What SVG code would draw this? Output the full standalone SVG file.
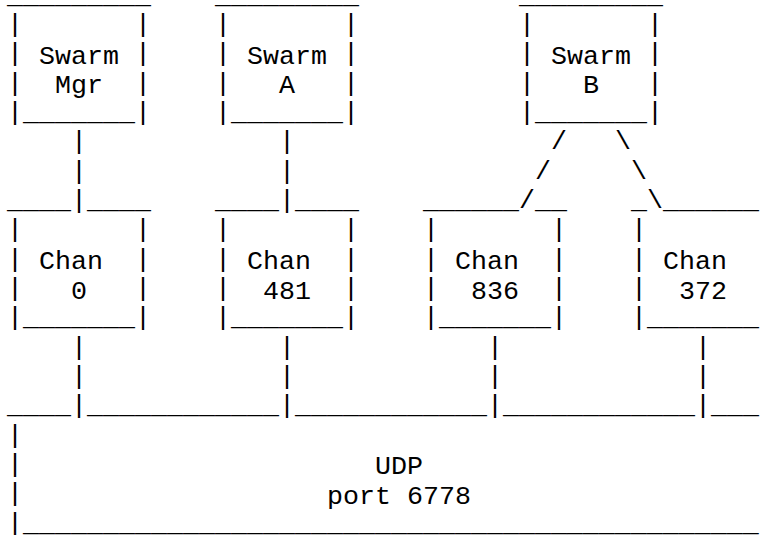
<svg xmlns="http://www.w3.org/2000/svg" width="762" height="535" viewBox="0 0 762 535" xml:space="preserve">
<style>
text{font-family:"Liberation Mono","Courier New",monospace;font-size:26.66px;fill:#000;white-space:pre}
</style>
<rect x="0" y="0" width="762" height="535" fill="#fff"/>
<g id="swarm-mgr">
<text x="7" y="2.8">_________</text>
<text><tspan x="7" y="32.13">|</tspan><tspan x="7" y="61.46">|</tspan><tspan x="7" y="90.79">|</tspan></text>
<text><tspan x="135" y="32.13">|</tspan><tspan x="135" y="61.46">|</tspan><tspan x="135" y="90.79">|</tspan></text>
<text x="7" y="120.12">|_______|</text>
<text><tspan x="39" y="64.1">Swarm</tspan><tspan x="55" y="93.4">Mgr</tspan></text>
</g>
<g id="swarm-a">
<text x="215" y="2.8">_________</text>
<text><tspan x="215" y="32.13">|</tspan><tspan x="215" y="61.46">|</tspan><tspan x="215" y="90.79">|</tspan></text>
<text><tspan x="343" y="32.13">|</tspan><tspan x="343" y="61.46">|</tspan><tspan x="343" y="90.79">|</tspan></text>
<text x="215" y="120.12">|_______|</text>
<text><tspan x="247" y="64.1">Swarm</tspan><tspan x="279" y="93.4">A</tspan></text>
</g>
<g id="swarm-b">
<text x="519" y="2.8">_________</text>
<text><tspan x="519" y="32.13">|</tspan><tspan x="519" y="61.46">|</tspan><tspan x="519" y="90.79">|</tspan></text>
<text><tspan x="647" y="32.13">|</tspan><tspan x="647" y="61.46">|</tspan><tspan x="647" y="90.79">|</tspan></text>
<text x="519" y="120.12">|_______|</text>
<text><tspan x="551" y="64.1">Swarm</tspan><tspan x="583" y="93.4">B</tspan></text>
</g>
<g id="chan-0">
<text x="7" y="208.11">____</text>
<text x="87" y="208.11">____</text>
<text><tspan x="7" y="237.44">|</tspan><tspan x="7" y="266.77">|</tspan><tspan x="7" y="296.1">|</tspan></text>
<text><tspan x="135" y="237.44">|</tspan><tspan x="135" y="266.77">|</tspan><tspan x="135" y="296.1">|</tspan></text>
<text x="7" y="325.43">|_______|</text>
<text><tspan x="39" y="269.2">Chan</tspan><tspan x="71" y="298.5">0</tspan></text>
</g>
<g id="chan-481">
<text x="215" y="208.11">____</text>
<text x="295" y="208.11">____</text>
<text><tspan x="215" y="237.44">|</tspan><tspan x="215" y="266.77">|</tspan><tspan x="215" y="296.1">|</tspan></text>
<text><tspan x="343" y="237.44">|</tspan><tspan x="343" y="266.77">|</tspan><tspan x="343" y="296.1">|</tspan></text>
<text x="215" y="325.43">|_______|</text>
<text><tspan x="247" y="269.2">Chan</tspan><tspan x="263" y="298.5">481</tspan></text>
</g>
<g id="chan-836">
<text x="423" y="208.11">______</text>
<text x="535" y="208.11">__</text>
<text><tspan x="423" y="237.44">|</tspan><tspan x="423" y="266.77">|</tspan><tspan x="423" y="296.1">|</tspan></text>
<text><tspan x="551" y="237.44">|</tspan><tspan x="551" y="266.77">|</tspan><tspan x="551" y="296.1">|</tspan></text>
<text x="423" y="325.43">|_______|</text>
<text><tspan x="455" y="269.2">Chan</tspan><tspan x="471" y="298.5">836</tspan></text>
</g>
<g id="chan-372">
<text x="631" y="208.11">_</text>
<text x="663" y="208.11">______</text>
<text><tspan x="631" y="237.44">|</tspan><tspan x="631" y="266.77">|</tspan><tspan x="631" y="296.1">|</tspan></text>
<text x="631" y="325.43">|_______</text>
<text><tspan x="663" y="269.2">Chan</tspan><tspan x="679" y="298.5">372</tspan></text>
</g>
<g id="udp">
<text x="7" y="413.42">____</text>
<text x="87" y="413.42">____________</text>
<text x="295" y="413.42">____________</text>
<text x="503" y="413.42">____________</text>
<text x="711" y="413.42">___</text>
<text><tspan x="7" y="442.75">|</tspan><tspan x="7" y="472.08">|</tspan><tspan x="7" y="501.41">|</tspan></text>
<text x="7" y="530.74">|______________________________________________</text>
<text><tspan x="375" y="474.3">UDP</tspan><tspan x="327" y="503.6">port 6778</tspan></text>
</g>
<g id="connectors">
<text><tspan x="71" y="149.45">|</tspan><tspan x="71" y="178.78">|</tspan><tspan x="71" y="208.11">|</tspan></text>
<text><tspan x="279" y="149.45">|</tspan><tspan x="279" y="178.78">|</tspan><tspan x="279" y="208.11">|</tspan></text>
<text><tspan x="551" y="149.45">/</tspan><tspan x="535" y="178.78">/</tspan><tspan x="519" y="208.11">/</tspan></text>
<text><tspan x="615" y="149.45">\</tspan><tspan x="631" y="178.78">\</tspan><tspan x="647" y="208.11">\</tspan></text>
<text><tspan x="71" y="354.76">|</tspan><tspan x="71" y="384.09">|</tspan><tspan x="71" y="413.42">|</tspan></text>
<text><tspan x="279" y="354.76">|</tspan><tspan x="279" y="384.09">|</tspan><tspan x="279" y="413.42">|</tspan></text>
<text><tspan x="487" y="354.76">|</tspan><tspan x="487" y="384.09">|</tspan><tspan x="487" y="413.42">|</tspan></text>
<text><tspan x="695" y="354.76">|</tspan><tspan x="695" y="384.09">|</tspan><tspan x="695" y="413.42">|</tspan></text>
</g>
</svg>
